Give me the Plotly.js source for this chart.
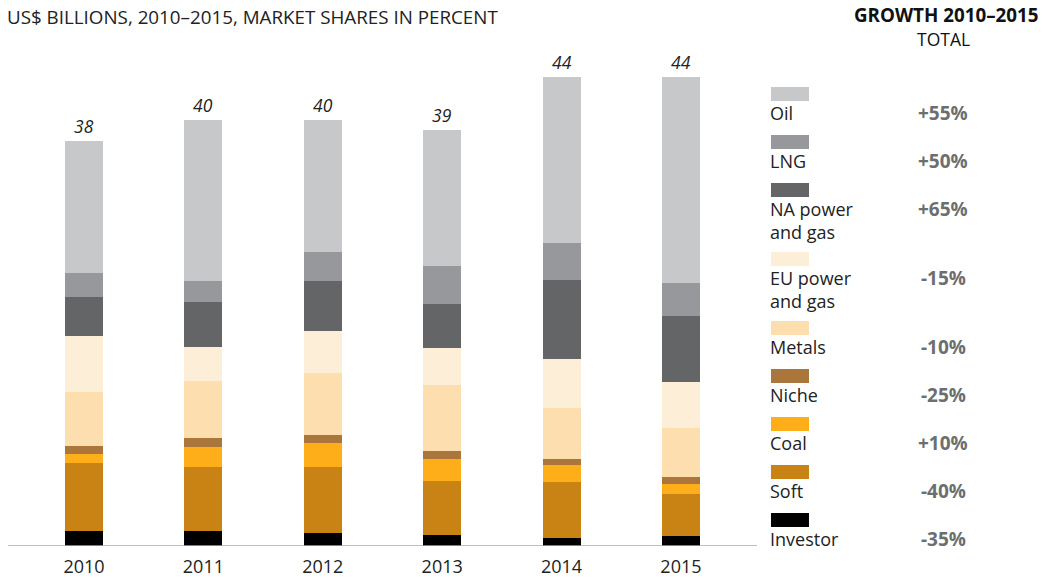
<!DOCTYPE html>
<html>
<head>
<meta charset="utf-8">
<script src="https://cdn.plot.ly/plotly-3.0.1.min.js"></script>
<style>
  html, body { margin: 0; padding: 0; background: #fff; }
  #chart { width: 1051px; height: 579px; }
</style>
</head>
<body>
<div id="chart"></div>
<script>
const years = ['2010', '2011', '2012', '2013', '2014', '2015'];
const totals = [38, 40, 40, 39, 44, 44];

// segment values in US$ billions, bottom to top
const investor = [1.41, 1.41, 1.22, 1.03, 0.75, 0.94];
const soft = [6.38, 6.00, 6.19, 5.07, 5.25, 3.94];
const coal = [0.84, 1.88, 2.25, 2.06, 1.60, 0.94];
const niche = [0.75, 0.84, 0.75, 0.75, 0.56, 0.66];
const metals = [5.07, 5.35, 5.82, 6.19, 4.79, 4.60];
const euPower = [5.25, 3.19, 3.94, 3.47, 4.60, 4.32];
const naPower = [3.66, 4.22, 4.69, 4.13, 7.41, 6.19];
const lng = [2.25, 1.97, 2.72, 3.57, 3.47, 3.10];
const oil = [12.39, 15.11, 12.39, 12.76, 15.58, 19.33];

const seriesNames = ['Investor', 'Soft', 'Coal', 'Niche', 'Metals', 'EU power<br>and gas', 'NA power<br>and gas', 'LNG', 'Oil'];
const seriesValues = [investor, soft, coal, niche, metals, euPower, naPower, lng, oil];
const seriesColors = ['#000000', '#c98315', '#fdae18', '#ab763b', '#fddeae', '#fdeed8', '#646567', '#97989b', '#c7c8ca'];
const growth = ['-35%', '-40%', '+10%', '-25%', '-10%', '-15%', '+65%', '+50%', '+55%'];

const W = 1051, H = 579;
const margin = { l: 8, r: 294, t: 60, b: 33 };
const plotW = W - margin.l - margin.r;
const plotH = H - margin.t - margin.b;

// pixel -> paper helpers for the hand-made legend
function px(x) { return (x - margin.l) / plotW; }
function py(y) { return (H - margin.b - y) / plotH; }

const font = '"Open Sans", Lato, sans-serif';

const traces = seriesNames.map((name, i) => ({
  type: 'bar',
  x: years,
  y: seriesValues[i],
  name: name.replace('<br>', ' '),
  width: 0.318,
  marker: { color: seriesColors[i], line: { width: 0 } },
  hoverinfo: 'name+y',
  showlegend: false
}));

const annotations = [];
const shapes = [];

// totals on top of each bar (x as category index)
totals.forEach((t, i) => {
  annotations.push({
    x: i, y: t, xref: 'x', yref: 'y',
    text: '<i>' + t + '</i>', showarrow: false,
    yanchor: 'bottom', yshift: 1,
    font: { family: font, size: 17.5, color: '#222' }
  });
});

annotations.push({
  xref: 'paper', yref: 'paper', x: px(5), y: py(17),
  xanchor: 'left', yanchor: 'middle', showarrow: false,
  text: 'US$ BILLIONS, 2010–2015, MARKET SHARES IN PERCENT',
  font: { family: font, size: 18.8, color: '#222' }
});
annotations.push({
  xref: 'paper', yref: 'paper', x: px(1040), y: py(15),
  xanchor: 'right', yanchor: 'middle', showarrow: false, borderpad: 0,
  text: '<b>GROWTH 2010–2015</b>',
  font: { family: font, size: 18.8, color: '#111' }
});
annotations.push({
  xref: 'paper', yref: 'paper', x: px(943), y: py(39),
  xanchor: 'center', yanchor: 'middle', showarrow: false, borderpad: 0,
  text: 'TOTAL',
  font: { family: font, size: 17.5, color: '#111' }
});

// legend, top to bottom (Oil first)
let rowY = 87;
for (let k = seriesNames.length - 1; k >= 0; k--) {
  shapes.push({
    type: 'rect', xref: 'paper', yref: 'paper',
    x0: px(771), x1: px(809), y0: py(rowY + 14), y1: py(rowY),
    fillcolor: seriesColors[k], line: { width: 0 }
  });
  const nLines = seriesNames[k].split('<br>').length;
  annotations.push({
    xref: 'paper', yref: 'paper', x: px(769), y: py(rowY + 13),
    xanchor: 'left', yanchor: 'top', align: 'left', showarrow: false, borderpad: 0,
    text: seriesNames[k],
    font: { family: font, size: 18, color: '#222' }
  });
  annotations.push({
    xref: 'paper', yref: 'paper', x: px(943), y: py(rowY + 26),
    xanchor: 'center', yanchor: 'middle', showarrow: false,
    text: '<b>' + growth[k] + '</b>',
    font: { family: font, size: 19, color: '#6d6e70' }
  });
  rowY += 48 + 21 * (nLines - 1);
}

const layout = {
  width: W, height: H,
  margin: margin,
  barmode: 'stack',
  paper_bgcolor: '#fff',
  plot_bgcolor: '#fff',
  showlegend: false,
  xaxis: {
    type: 'category',
    range: [-0.6365, 5.637],
    showgrid: false, zeroline: false,
    showline: false,
    ticks: '',
    ticklabelstandoff: 8,
    tickfont: { family: font, size: 18, color: '#222' }
  },
  yaxis: {
    range: [0, 45.6],
    showgrid: false, zeroline: false,
    showline: false, showticklabels: false, ticks: ''
  },
  shapes: shapes.concat([{
    type: 'line', xref: 'paper', yref: 'y',
    x0: 0, x1: 1, y0: 0, y1: 0,
    line: { color: '#a7a9ac', width: 1.5 }
  }]),
  annotations: annotations
};

Plotly.newPlot('chart', traces, layout, { displayModeBar: false, staticPlot: true });
</script>
</body>
</html>
